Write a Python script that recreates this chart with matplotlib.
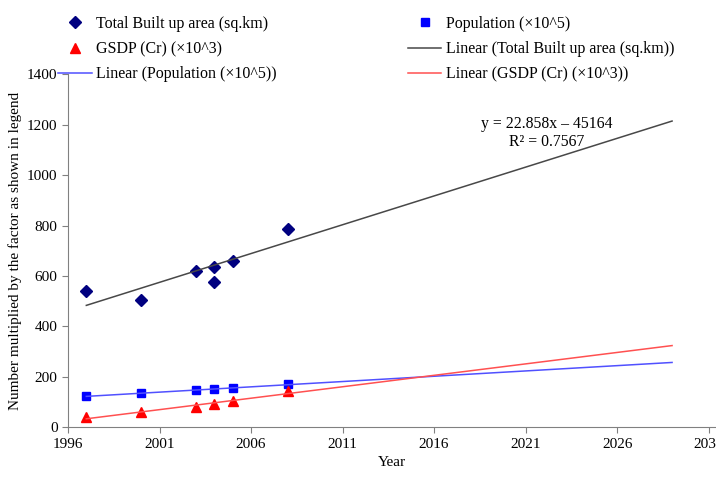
import numpy as np
import matplotlib.pyplot as plt

plt.rcParams['font.family'] = ['Liberation Serif', 'DejaVu Serif']

# values
area_years = [1997, 2000, 2003, 2004, 2004, 2005, 2008]
area_vals = [541, 505, 620, 636, 577, 660, 788]
pop_years = [1997, 2000, 2003, 2004, 2005, 2008]
pop_vals = [123, 135, 147, 151, 155, 170]
gsdp_years = [1997, 2000, 2003, 2004, 2005, 2008]
gsdp_vals = [40, 60, 80, 92, 103, 143]

# trend line printed on the chart for built-up area
area_slope = 22.858
area_icpt = -45164
trend_years = [1997, 2029]

xticks = [1996, 2001, 2006, 2011, 2016, 2021, 2026, 2031]
yticks = [0, 200, 400, 600, 800, 1000, 1200, 1400]

fig = plt.figure(figsize=(7.16, 4.8), dpi=100)
ax = fig.add_axes([0.095, 0.11, 0.905, 0.735])

tx = np.array(trend_years, dtype=float)

h_area, = ax.plot(area_years, area_vals, 'D', color='#000080', markersize=6.5,
                  linestyle='none', label='Total Built up area (sq.km)')
h_pop, = ax.plot(pop_years, pop_vals, 's', color='#0000ff', markersize=6,
                 linestyle='none', label='Population (\u00d710^5)')
h_gsdp, = ax.plot(gsdp_years, gsdp_vals, '^', color='#ff0000', markersize=7.5,
                  linestyle='none', label='GSDP (Cr) (\u00d710^3)')

h_larea, = ax.plot(tx, area_slope * tx + area_icpt, color='#484848', lw=1.1,
                   label='Linear (Total Built up area (sq.km))')
p = np.polyfit(pop_years, pop_vals, 1)
h_lpop, = ax.plot(tx, np.polyval(p, tx), color='#5050ff', lw=1.1,
                  label='Linear (Population (\u00d710^5))')
g = np.polyfit(gsdp_years, gsdp_vals, 1)
h_lgsdp, = ax.plot(tx, np.polyval(g, tx), color='#ff5050', lw=1.1,
                   label='Linear (GSDP (Cr) (\u00d710^3))')

ax.text(2022.15, 1205, 'y = 22.858x \u2013 45164', fontsize=11.3,
        ha='center', va='center')
ax.text(2022.15, 1130, 'R\u00b2 = 0.7567', fontsize=11.3,
        ha='center', va='center')

ax.set_xlim(1996, 2031.4)
ax.set_ylim(0, 1400)
ax.set_xticks(xticks)
ax.set_yticks(yticks)
ax.tick_params(labelsize=11, direction='out', length=4, color='#808080')
for s in ['top', 'right']:
    ax.spines[s].set_visible(False)
for s in ['left', 'bottom']:
    ax.spines[s].set_color('#808080')
ax.set_xlabel('Year', fontsize=11)
ax.set_ylabel('Number multiplied by the factor as shown in legend', fontsize=11)

handles = [h_area, h_gsdp, h_lpop, h_pop, h_larea, h_lgsdp]
fig.legend(handles=handles, labels=[h.get_label() for h in handles],
           ncol=2, loc='upper left', bbox_to_anchor=(0.081, 0.967),
           frameon=False, fontsize=11.5, handlelength=2.1, handletextpad=0.3,
           labelspacing=0.58, columnspacing=8.2, borderpad=0, borderaxespad=0,
           markerscale=0.95)

fig.savefig('out.png', dpi=100)
